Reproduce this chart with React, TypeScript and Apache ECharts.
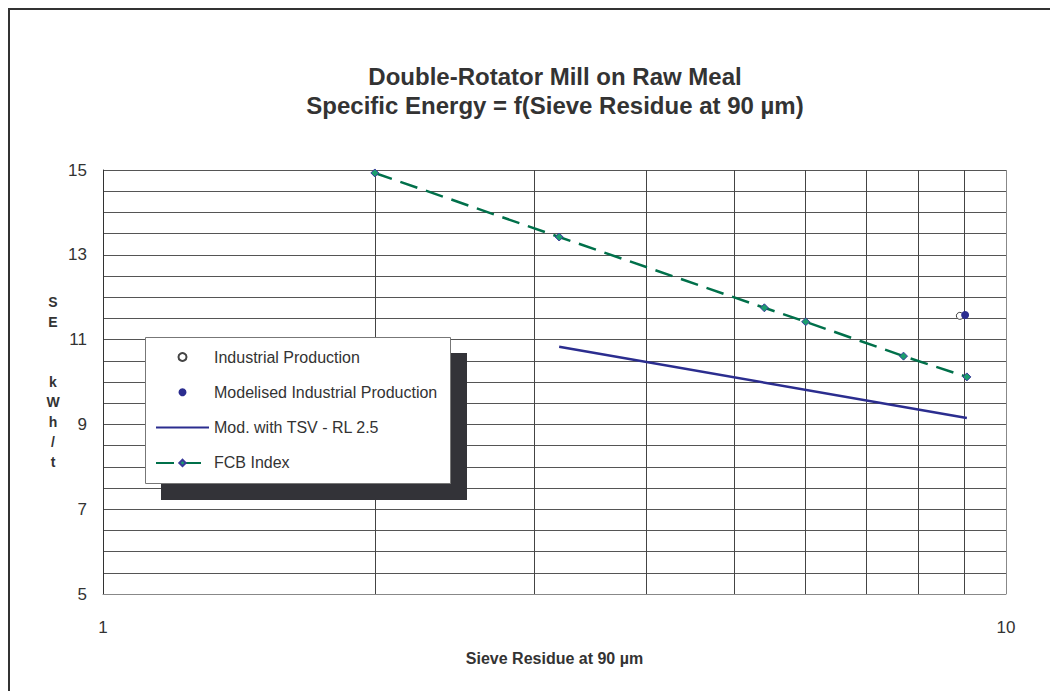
import React, { useEffect, useRef } from "react";
import * as echarts from "echarts";

const titleLines = ["Double-Rotator Mill on Raw Meal", "Specific Energy = f(Sieve Residue at 90 µm)"];
const xAxisName = "Sieve Residue at 90 µm";
const yAxisLetters = ["S", "E", "", "", "k", "W", "h", "/", "t"];
const seriesNames = ["Industrial Production", "Modelised Industrial Production", "Mod. with TSV - RL 2.5", "FCB Index"];

const industrialX = [8.89];
const industrialY = [11.56];
const modelisedX = [9.01];
const modelisedY = [11.58];
const tsvX = [3.2, 9.05];
const tsvY = [10.83, 9.15];
const fcbX = [2, 3.2, 5.4, 6, 7.7, 9.05];
const fcbY = [14.93, 13.42, 11.75, 11.42, 10.61, 10.12];
const minorXGrid = [2, 3, 4, 5, 6, 7, 8, 9];

const yMin = 5;
const yMax = 15;
const yStep = 0.5;

const NAVY = "#2b2d8f";
const GREEN = "#00704a";
const TEXT = "#333333";
const FONT = "'Liberation Sans', Arial, Helvetica, sans-serif";

const zip = (xs: number[], ys: number[]) => xs.map((x, i) => [x, ys[i]]);

export default function App() {
  const ref = useRef<HTMLDivElement>(null);
  useEffect(() => {
    if (!ref.current) return;
    const chart = echarts.init(ref.current, undefined, { renderer: "svg" });
    chart.setOption({
      animation: false,
      textStyle: { fontFamily: FONT },
      title: {
        text: titleLines.join("\n"),
        left: 547,
        top: 54,
        padding: 0,
        textAlign: "center",
        textStyle: { fontFamily: FONT, fontSize: 24, fontWeight: "bold", color: TEXT, lineHeight: 29 },
      },
      grid: { left: 95, top: 162, width: 903, height: 424, containLabel: false },
      xAxis: {
        type: "log",
        logBase: 10,
        min: 1,
        max: 10,
        name: xAxisName,
        nameLocation: "middle",
        nameGap: 56,
        nameTextStyle: { fontFamily: FONT, fontSize: 16, fontWeight: "bold", color: TEXT },
        axisLine: { show: true, lineStyle: { color: "#888", width: 1 } },
        axisTick: { show: false },
        axisLabel: { fontFamily: FONT, fontSize: 17, color: TEXT, margin: 25 },
        splitLine: { show: true, lineStyle: { color: "#888", width: 1 } },
      },
      yAxis: {
        type: "value",
        min: yMin,
        max: yMax,
        interval: yStep,
        axisLine: { show: true, lineStyle: { color: "#333", width: 1 } },
        axisTick: { show: false },
        axisLabel: {
          fontFamily: FONT,
          fontSize: 17,
          color: TEXT,
          margin: 16,
          formatter: (v: number) => (Math.abs((v - yMin) % 2) < 1e-6 ? String(v) : ""),
        },
        splitLine: { show: true, lineStyle: { color: "#555", width: 1 } },
      },
      legend: {
        orient: "vertical",
        left: 147,
        top: 341,
        padding: 0,
        itemWidth: 53,
        itemHeight: 8,
        itemGap: 19.3,
        z: 20,
        textStyle: { fontFamily: FONT, fontSize: 16, color: TEXT },
        data: [
          { name: seriesNames[0], icon: "circle" },
          { name: seriesNames[1], icon: "circle" },
          { name: seriesNames[2], itemStyle: { opacity: 0 } },
          { name: seriesNames[3] },
        ],
      },
      graphic: [
        { type: "rect", z: 0, silent: true, shape: { x: 1, y: 1, width: 1200, height: 900 }, style: { fill: "none", stroke: "#333", lineWidth: 2 } },
        { type: "rect", z: 10, silent: true, shape: { x: 153, y: 345, width: 306, height: 147 }, style: { fill: "#333338" } },
        { type: "rect", z: 11, silent: true, shape: { x: 137.5, y: 329.5, width: 305, height: 146 }, style: { fill: "#fff", stroke: "#777", lineWidth: 1 } },
        {
          type: "text",
          z: 12,
          silent: true,
          x: 45,
          y: 284,
          style: {
            text: yAxisLetters.join("\n"),
            fontFamily: FONT,
            fontSize: 14,
            fontWeight: "bold",
            fill: TEXT,
            lineHeight: 20,
            align: "center",
            verticalAlign: "top",
          },
        },
      ],
      series: [
        {
          name: seriesNames[0],
          type: "scatter",
          data: zip(industrialX, industrialY),
          symbol: "circle",
          symbolSize: 7,
          itemStyle: { color: "#fff", borderColor: "#444", borderWidth: 1, opacity: 1 },
          z: 3,
        },
        {
          name: seriesNames[1],
          type: "scatter",
          data: zip(modelisedX, modelisedY),
          symbol: "circle",
          symbolSize: 8,
          itemStyle: { color: NAVY, opacity: 1 },
          z: 4,
        },
        {
          name: seriesNames[2],
          type: "line",
          data: zip(tsvX, tsvY),
          symbol: "none",
          showSymbol: false,
          lineStyle: { color: NAVY, width: 2.5 },
          itemStyle: { color: NAVY },
          z: 3,
        },
        {
          name: seriesNames[3],
          type: "line",
          data: zip(fcbX, fcbY),
          symbol: "diamond",
          symbolSize: 8,
          lineStyle: { color: GREEN, width: 2.5, type: [18, 9] },
          itemStyle: { color: "#1b9e6e", borderColor: "#3a3a9a", borderWidth: 1 },
          z: 3,
          markLine: {
            silent: true,
            z: 1,
            symbol: ["none", "none"],
            label: { show: false },
            emphasis: { disabled: true },
            lineStyle: { color: "#444", width: 1, type: "solid" },
            data: minorXGrid.map((v) => ({ xAxis: v })),
          },
        },
      ],
    });
    return () => chart.dispose();
  }, []);
  return <div ref={ref} style={{ width: 1050, height: 683 }} />;
}
